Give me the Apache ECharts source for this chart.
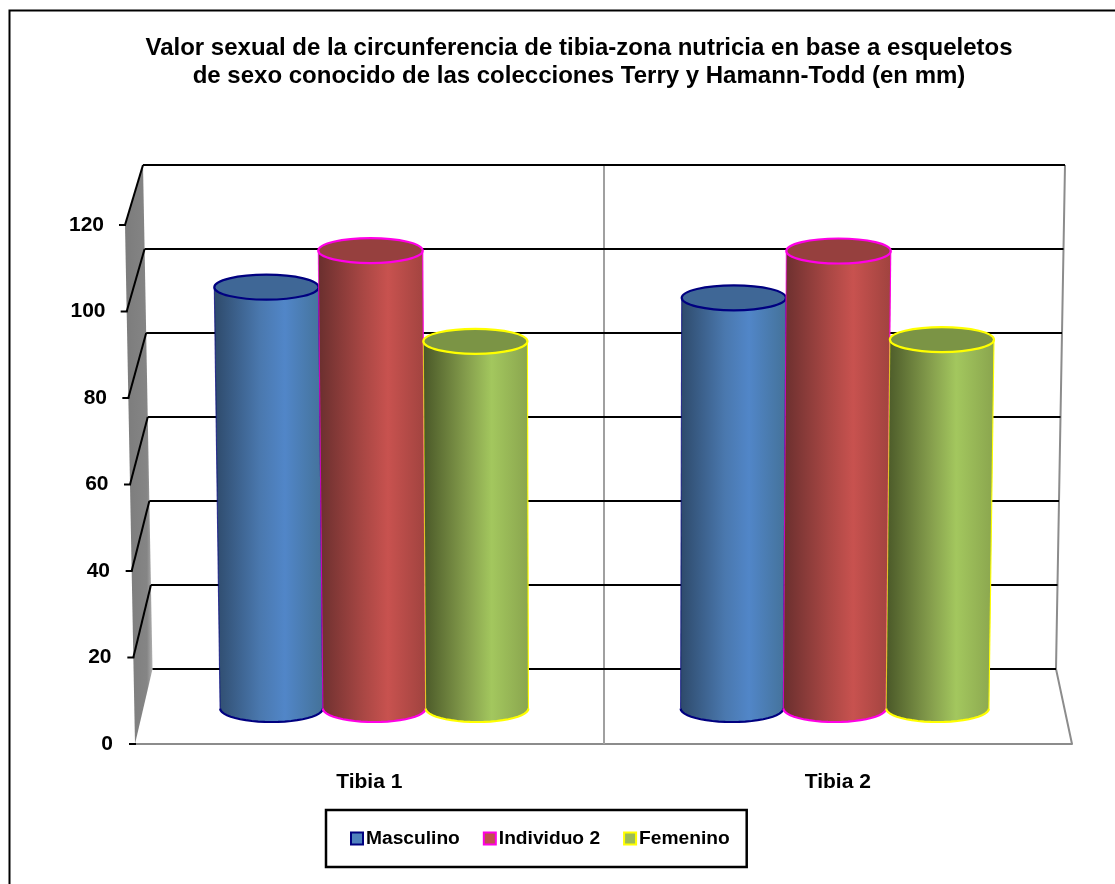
<!DOCTYPE html>
<html><head><meta charset="utf-8">
<style>html,body{margin:0;padding:0;background:#fff}#c{width:1115px;height:884px}</style>
<script src="https://cdn.jsdelivr.net/npm/echarts@6/dist/echarts.min.js"></script>
</head><body><div id="c"></div>
<script>
const categories = ['Tibia 1', 'Tibia 2'];
const yTicks = [0, 20, 40, 60, 80, 100, 120];
const masculino = [98.9, 96.4];
const individuo2 = [107.5, 107.4];
const femenino = [86.2, 86.6];
const seriesNames = ['Masculino', 'Individuo 2', 'Femenino'];
const titleText = 'Valor sexual de la circunferencia de tibia-zona nutricia en base a esqueletos\nde sexo conocido de las colecciones Terry y Hamann-Todd (en mm)';

const FONT = '"Liberation Sans", Arial, sans-serif';
const looks = [
  {edge:'#000080', top:'#3f6796', g:['#2e4a6b','#4a78ae','#5186c8','#447299']},
  {edge:'#ff00e6', top:'#96403e', g:['#6a2f2e','#a94744','#c8524f','#a0433f']},
  {edge:'#ffff00', top:'#7b9445', g:['#4a5828','#869f4d','#a3c75e','#8aa54e']}
];
const swatch = ['#4f81bd','#c0504d','#9bbb59'];

const chart = echarts.init(document.getElementById('c'), null, {renderer:'canvas'});

function wallItem(params, api) {
  const v = api.value(0);
  const y = api.coord([0, v])[1];
  const t = v / 120;
  const fx = 135 - 10 * t;
  const by = 669 - (744 - y) * 504 / 519;
  const blx = 152.5 - 9.5 * t;
  const brx = 1056 + 9 * t;
  const kids = [];
  if (params.dataIndex === 0) {
    kids.push({type:'polygon', shape:{points:[[135,744],[125,225],[143,165],[152.5,669]]},
      style:{fill:new echarts.graphic.LinearGradient(0,0,1,0,[{offset:0,color:'#7c7c7c'},{offset:0.8,color:'#858585'},{offset:1,color:'#b0b0b0'}])}});
    kids.push({type:'polyline', shape:{points:[[1065,165],[1056,669],[1072,744]]}, style:{stroke:'#8c8c8c', lineWidth:2, fill:null}});
    kids.push({type:'line', shape:{x1:604,y1:165,x2:604,y2:744}, style:{stroke:'#a0a0a0', lineWidth:2}});
  }
  kids.push({type:'line', shape:{x1:blx,y1:by,x2:brx,y2:by}, style:{stroke:'#000', lineWidth:2}});
  if (v > 0) kids.push({type:'line', shape:{x1:fx,y1:y,x2:blx,y2:by}, style:{stroke:'#000', lineWidth:2}});
  kids.push({type:'line', shape:{x1:fx-6,y1:y,x2:fx+1,y2:y}, style:{stroke:'#000', lineWidth:2}});
  return {type:'group', children:kids};
}

function cylinderRenderer(si) {
  return function (params, api) {
    const cat = api.value(0), val = api.value(1);
    const band = api.size([1, 0])[0];
    const w = band / 4.48;
    const base = api.coord([cat, 0]);
    const top0 = api.coord([cat, val]);
    const bx = base[0] + (si - 1) * w;
    const by = base[1];
    const h = by - top0[1];
    const k = 3.57e-5;
    const grow = 1 + k * h;
    const tx = 604 + (bx - 604) * grow;
    const ty = top0[1];
    const rb = w / 2, rt = rb * grow, ryTop = 12.5, ryBot = 13.5;
    const L = looks[si];
    const pts = [[tx - rt, ty], [tx + rt, ty]];
    const arc = [];
    for (let i = 0; i <= 24; i++) {
      const a = Math.PI * i / 24;
      arc.push([bx + rb * Math.cos(a), by + ryBot * Math.sin(a)]);
    }
    return {type:'group', children:[
      {type:'polygon', shape:{points:pts.concat(arc)}, style:{
        fill:new echarts.graphic.LinearGradient(0,0,1,0,[
          {offset:0,color:L.g[0]},{offset:0.42,color:L.g[1]},{offset:0.65,color:L.g[2]},{offset:1,color:L.g[3]}])}},
      {type:'line', shape:{x1:tx+rt,y1:ty,x2:bx+rb,y2:by}, style:{stroke:L.edge, lineWidth:1.1}},
      {type:'line', shape:{x1:tx-rt,y1:ty,x2:bx-rb,y2:by}, style:{stroke:L.edge, lineWidth:1.1, opacity:0.7}},
      {type:'polyline', shape:{points:arc}, style:{stroke:L.edge, lineWidth:2.2, fill:null}},
      {type:'ellipse', shape:{cx:tx,cy:ty,rx:rt,ry:ryTop}, style:{fill:L.top, stroke:L.edge, lineWidth:2.2}}
    ]};
  };
}

const valueSets = [masculino, individuo2, femenino];
const rich = {};
yTicks.forEach(v => { rich['v'+v] = {fontFamily:FONT, fontWeight:'bold', fontSize:21, color:'#000', padding:[0, v/120*9, 0, 0]}; });

chart.setOption({
  animation:false,
  backgroundColor:'#fff',
  textStyle:{fontFamily:FONT},
  title:{text:titleText, left:574, top:30, textAlign:'center',
    textStyle:{fontFamily:FONT, fontWeight:'bold', fontSize:24, lineHeight:27.5, color:'#000'}},
  graphic:[{type:'polyline', silent:true, z:-1, shape:{points:[[9.5,884],[9.5,10.5],[1115,10.5]]}, style:{stroke:'#000', lineWidth:2, fill:null}}],
  legend:{
    left:326, top:810, orient:'horizontal', padding:[19,17,19,24], itemGap:23, itemWidth:12, itemHeight:12,
    borderColor:'#000', borderWidth:2.5, backgroundColor:'#fff',
    textStyle:{fontFamily:FONT, fontWeight:'bold', fontSize:19.2, color:'#000', padding:[0,0,0,-2]},
    data:seriesNames.map((n,i)=>({name:n, icon:'rect', itemStyle:{color:swatch[i], borderColor:looks[i].edge, borderWidth:2}}))
  },
  grid:[
    {left:135, width:937, top:225, height:519},
    {left:144, width:921, top:197.3, height:511.2}
  ],
  xAxis:[
    {type:'category', gridIndex:0, data:categories, boundaryGap:true,
     axisLine:{lineStyle:{color:'#8c8c8c', width:2}},
     axisTick:{length:5, lineStyle:{color:'#000', width:2}},
     axisLabel:{margin:28, fontFamily:FONT, fontWeight:'bold', fontSize:21, color:'#000'}},
    {type:'category', gridIndex:1, data:categories, show:false}
  ],
  yAxis:[
    {type:'value', gridIndex:0, min:0, max:120, interval:20, axisLine:{show:false}, axisTick:{show:false}, splitLine:{show:false},
     axisLabel:{margin:22, formatter:v=>`{v${v}|${v}}`, rich}},
    {type:'value', gridIndex:1, min:0, max:120, interval:20, show:false}
  ],
  series:[
    {type:'custom', name:'walls', xAxisIndex:0, yAxisIndex:0, silent:true, z:1, clip:false,
     data:yTicks.map(v=>[v]), encode:{y:0}, renderItem:wallItem},
    ...seriesNames.map((n,si)=>({
      type:'custom', name:n, xAxisIndex:1, yAxisIndex:1, z:2+si, clip:false,
      itemStyle:{color:swatch[si]},
      data:categories.map((c,i)=>[i, valueSets[si][i]]),
      encode:{x:0,y:1}, renderItem:cylinderRenderer(si)
    }))
  ]
});
</script></body></html>
